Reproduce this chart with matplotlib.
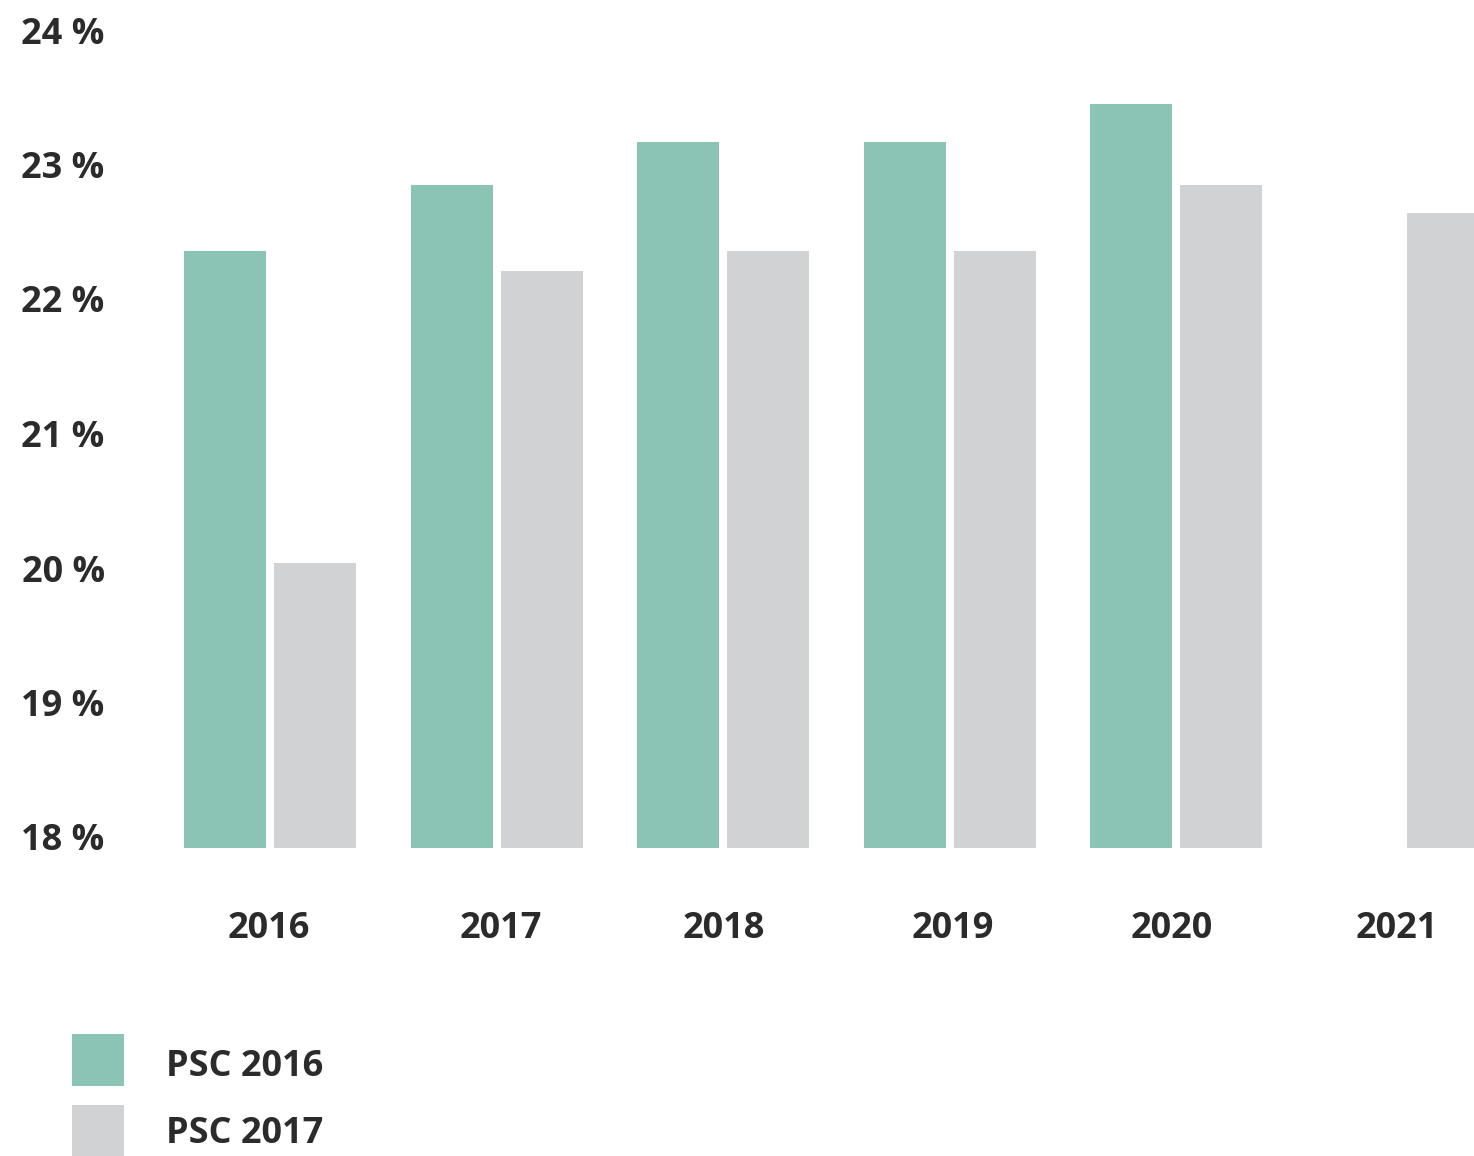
import matplotlib.pyplot as plt
import numpy as np
from matplotlib.patches import Rectangle

# data
years = ["2016", "2017", "2018", "2019", "2020", "2021"]
psc_2016 = [22.36, 22.85, 23.17, 23.17, 23.45, np.nan]
psc_2017 = [20.04, 22.21, 22.36, 22.36, 22.85, 22.64]
y_ticks = [18, 19, 20, 21, 22, 23, 24]
series_names = ["PSC 2016", "PSC 2017"]

GREEN = "#8bc3b4"
GREY = "#d1d2d4"
TEXT = "#2b2b2b"

W, H = 1474, 1156
plt.rcParams['font.family'] = ['Open Sans', 'DejaVu Sans']

fig = plt.figure(figsize=(W / 100, H / 100), dpi=100)

# axes placed in pixel terms
left_px, right_px, bottom_px, top_px = 120, 1474, 848, 10
ax = fig.add_axes([left_px / W, (H - bottom_px) / H,
                   (right_px - left_px) / W, (bottom_px - top_px) / H])

px_per_unit = 134.5
zero_px = 837  # centre of the "18 %" label
ax.set_ylim(18 - (bottom_px - zero_px) / px_per_unit,
            18 + (zero_px - top_px) / px_per_unit)

group_px = 226.5
first_px = 270
ax.set_xlim((left_px - first_px) / group_px, (right_px - first_px) / group_px)

x = np.arange(len(years))
bw = 82 / group_px
off = 45 / group_px
base = ax.get_ylim()[0]
g = np.array(psc_2016)
ax.bar(x[~np.isnan(g)] - off, g[~np.isnan(g)] - base, bw, bottom=base,
       color=GREEN, linewidth=0)
ax.bar(x + off, np.array(psc_2017) - base, bw, bottom=base,
       color=GREY, linewidth=0)

# year labels sit a little off the group centres in the original
label_px = np.array([269, 501, 723.5, 953, 1172, 1397])
ax.set_yticks(y_ticks)
ax.set_yticklabels([f"{t} %" for t in y_ticks])
ax.set_xticks((label_px - first_px) / group_px)
ax.set_xticklabels(years)
ax.tick_params(axis='both', length=0, labelsize=26, labelcolor=TEXT)
ax.tick_params(axis='y', pad=11)
ax.tick_params(axis='x', pad=45)
for lab in ax.get_xticklabels() + ax.get_yticklabels():
    lab.set_fontweight('bold')
for s in ax.spines.values():
    s.set_visible(False)

# legend drawn by hand
for i, (name, col) in enumerate(zip(series_names, [GREEN, GREY])):
    top = 1034 + i * 71
    fig.add_artist(Rectangle((72 / W, (H - top - 52) / H), 52 / W, 52 / H,
                             transform=fig.transFigure, color=col, lw=0))
    fig.text(166 / W, (H - (1076 + i * 67)) / H, name, fontsize=26,
             fontweight='bold', color=TEXT, va='baseline', ha='left')

fig.savefig("out.png", dpi=100)
